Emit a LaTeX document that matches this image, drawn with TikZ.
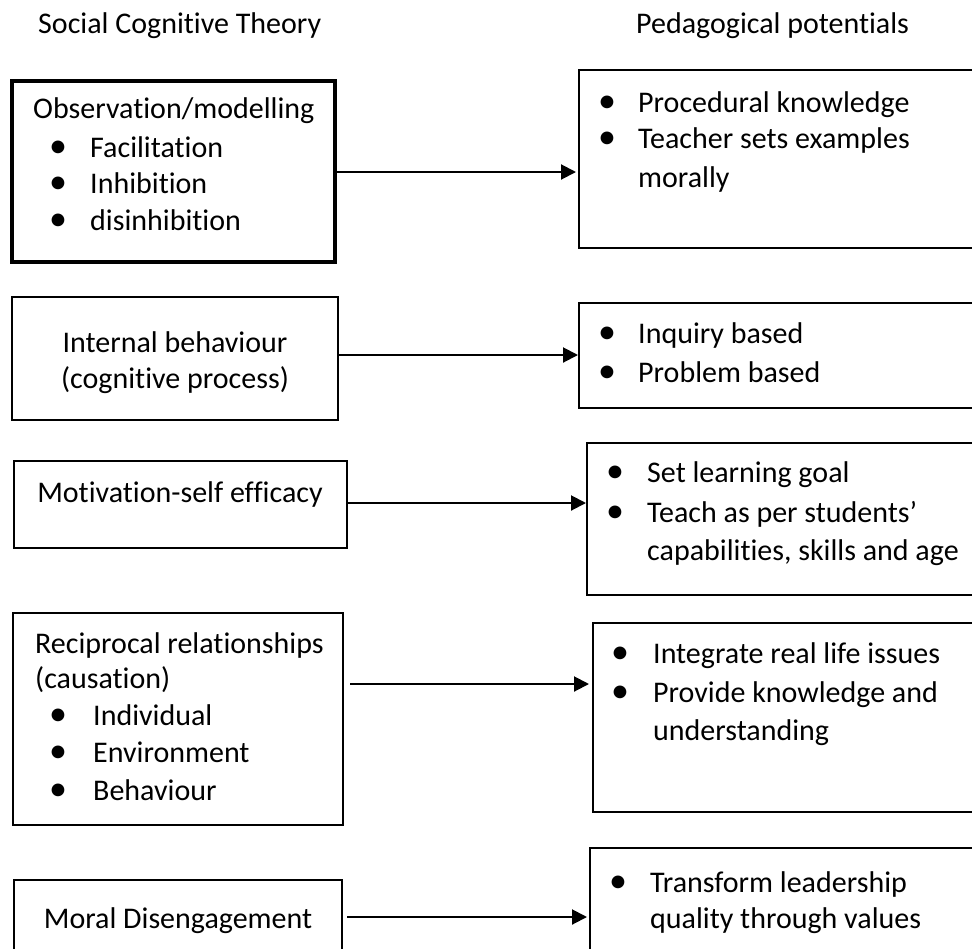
\documentclass[tikz,border=0pt]{standalone}
\usepackage{fontspec}
\setmainfont[Ligatures=NoCommon]{Carlito}
\usetikzlibrary{arrows.meta}
\begin{document}
\begin{tikzpicture}[x=1pt,y=-1pt,
  txt/.style={anchor=base west,inner sep=0pt,font=\fontsize{30}{36}\selectfont},
  ctxt/.style={anchor=base,inner sep=0pt,font=\fontsize{30}{36}\selectfont},
  bul/.style={anchor=base,inner sep=0pt,font=\fontsize{36}{36}\selectfont},
  lbox/.style={draw,line width=2pt,inner sep=0pt,outer sep=0pt},
  rbox/.style={draw,line width=1.5pt,inner sep=0pt,outer sep=0pt},
  arr/.style={line width=2pt,-{Triangle[length=15pt,width=15pt]}}]
\clip (0,0) rectangle (972,948);
\fill[white] (0,0) rectangle (972,948);
% titles
\node[txt] (t1) at (38,33) {Social Cognitive Theory};
\node[txt] (t2) at (636,33) {Pedagogical potentials};
% left boxes
\node[lbox,line width=4pt,minimum width=323pt,minimum height=181pt] (b1) at (173.5,171.5) {};
\node[lbox,minimum width=326pt,minimum height=123pt] (b2) at (175,358.5) {};
\node[lbox,minimum width=333pt,minimum height=87pt] (b3) at (180.5,504.5) {};
\node[lbox,minimum width=330pt,minimum height=212pt] (b4) at (178,719) {};
\node[lbox,minimum width=328pt,minimum height=110pt] (b5) at (178,935) {};
% right boxes
\node[rbox,minimum width=421pt,minimum height=178pt] (p1) at (789.5,159) {};
\node[rbox,minimum width=421pt,minimum height=105pt] (p2) at (789.5,355.5) {};
\node[rbox,minimum width=413pt,minimum height=152pt] (p3) at (793.5,519) {};
\node[rbox,minimum width=407pt,minimum height=189pt] (p4) at (796.5,717.5) {};
\node[rbox,minimum width=410pt,minimum height=142pt] (p5) at (795,919) {};
% box 1 text
\node[txt] (b1l1) at (33,118) {Observation/modelling};
\node[bul] (b1d1) at (58,157) {•};
\node[txt] (b1l2) at (90,157) {Facilitation};
\node[bul] (b1d2) at (58,193) {•};
\node[txt] (b1l3) at (90,193) {Inhibition};
\node[bul] (b1d3) at (58,230) {•};
\node[txt] (b1l4) at (90,230) {disinhibition};
% box 2 text
\node[ctxt] (b2l1) at (175,352) {Internal behaviour};
\node[ctxt] (b2l2) at (175,388) {(cognitive process)};
% box 3 text
\node[ctxt] (b3l1) at (180,502) {Motivation-self efficacy};
% box 4 text
\node[txt] (b4l1) at (35,653) {Reciprocal relationships};
\node[txt] (b4l2) at (35,688) {(causation)};
\node[bul] (b4d1) at (58,725) {•};
\node[txt] (b4l3) at (93,725) {Individual};
\node[bul] (b4d2) at (58,762) {•};
\node[txt] (b4l4) at (93,762) {Environment};
\node[bul] (b4d3) at (58,800) {•};
\node[txt] (b4l5) at (93,800) {Behaviour};
% box 5 text
\node[ctxt] (b5l1) at (178,928) {Moral Disengagement};
% right box texts
\node[bul] (p1d1) at (607,112) {•};
\node[txt] (p1l1) at (638,112) {Procedural knowledge};
\node[bul] (p1d2) at (607,148) {•};
\node[txt] (p1l2) at (638,148) {Teacher sets examples};
\node[txt] (p1l3) at (638,187) {morally};
\node[bul] (p2d1) at (607,343) {•};
\node[txt] (p2l1) at (638,343) {Inquiry based};
\node[bul] (p2d2) at (607,382) {•};
\node[txt] (p2l2) at (638,382) {Problem based};
\node[bul] (p3d1) at (615,482) {•};
\node[txt] (p3l1) at (647,482) {Set learning goal};
\node[bul] (p3d2) at (615,522) {•};
\node[txt] (p3l2) at (647,522) {Teach as per students’};
\node[txt] (p3l3) at (647,560) {capabilities, skills and age};
\node[bul] (p4d1) at (620,663) {•};
\node[txt] (p4l1) at (653,663) {Integrate real life issues};
\node[bul] (p4d2) at (620,702) {•};
\node[txt] (p4l2) at (653,702) {Provide knowledge and};
\node[txt] (p4l3) at (653,740) {understanding};
\node[bul] (p5d1) at (618,892) {•};
\node[txt] (p5l1) at (650,892) {Transform leadership};
\node[txt] (p5l2) at (650,928) {quality through values};
% connectors
\coordinate (a1) at (0,172);
\coordinate (a2) at (0,355);
\coordinate (a3) at (0,503);
\coordinate (a4) at (0,684);
\coordinate (a5) at (0,917);
\draw[arr,shorten >=3pt] (b1.east |- a1) -- (p1.west |- a1);
\draw[arr,shorten >=1pt] (b2.east |- a2) -- (p2.west |- a2);
\draw[arr,shorten >=1pt] (b3.east |- a3) -- (p3.west |- a3);
\draw[arr,shorten <=7pt,shorten >=4pt] (b4.east |- a4) -- (p4.west |- a4);
\draw[arr,shorten <=5pt,shorten >=3pt] (b5.east |- a5) -- (p5.west |- a5);
\end{tikzpicture}
\end{document}
